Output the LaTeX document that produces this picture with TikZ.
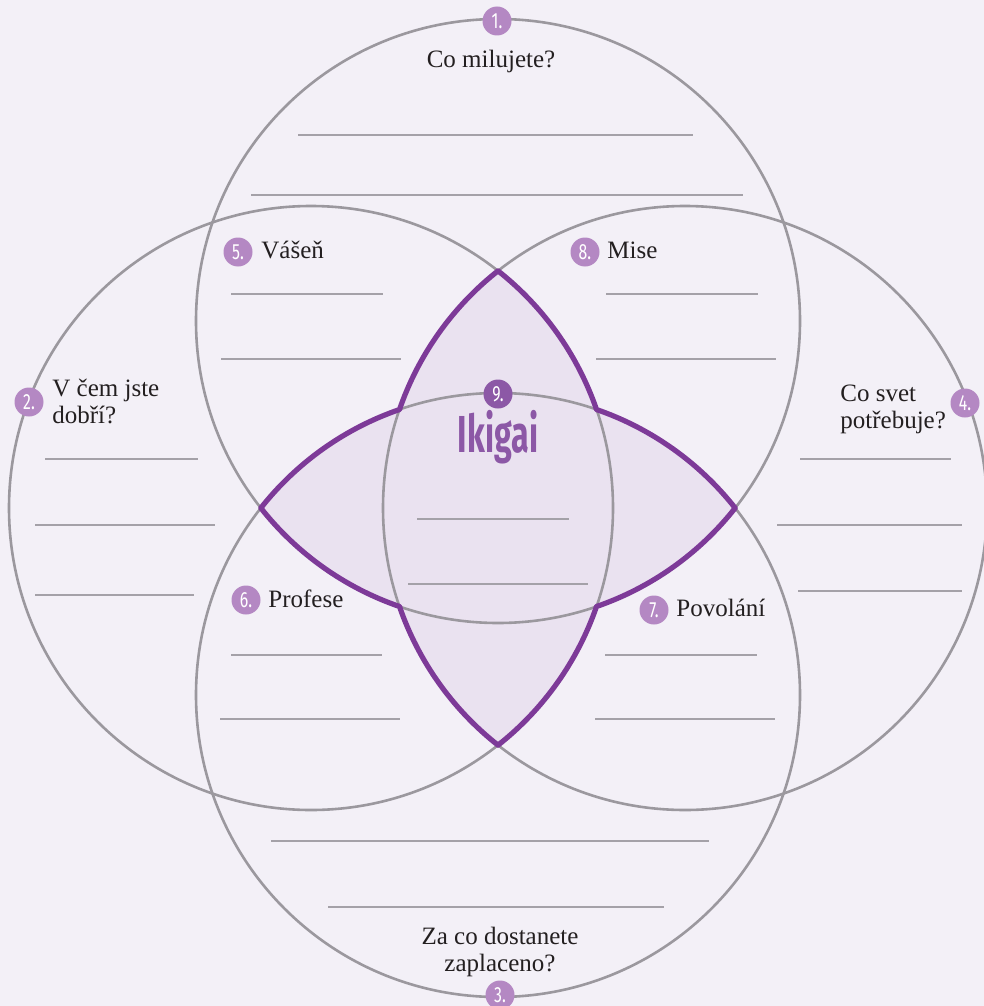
\documentclass[tikz,border=0pt]{standalone}
\usepackage{fontspec}
\setmainfont{Liberation Serif}
\newfontfamily\numfont[FakeStretch=0.72]{Fira Sans}
\newfontfamily\ikigaifont[FakeStretch=0.62]{Fira Sans}
\usepackage{xcolor}
\usetikzlibrary{positioning}
\definecolor{Backdrop}{HTML}{F3F0F7}
\definecolor{SoftPurple}{HTML}{EAE2F0}
\definecolor{DeepPurple}{HTML}{7D3A98}
\definecolor{BadgePurple}{HTML}{B488C3}
\definecolor{CorePurple}{HTML}{8C58A6}
\definecolor{RingGray}{HTML}{9B989E}
\definecolor{LineGray}{HTML}{A4A1A8}
\definecolor{InkGray}{HTML}{231F20}
\newcommand{\petals}{(498,270.86)
  arc[start angle=-51.74,end angle=-19.03,radius=302]
  arc[start angle=-70.97,end angle=-38.26,radius=302]
  arc[start angle=38.26,end angle=70.97,radius=302]
  arc[start angle=19.03,end angle=51.74,radius=302]
  arc[start angle=128.26,end angle=160.97,radius=302]
  arc[start angle=109.03,end angle=141.74,radius=302]
  arc[start angle=218.26,end angle=250.97,radius=302]
  arc[start angle=199.03,end angle=231.74,radius=302] -- cycle}
\tikzset{
  ring/.style={draw=RingGray,line width=1.3pt},
  petal/.style={draw=DeepPurple,line width=2.6pt,line join=round},
  blank/.style={draw=LineGray,line width=0.7pt},
  badge/.style={circle,fill=BadgePurple,text=white,minimum size=14.5pt,inner sep=0pt,
                font=\numfont\fontsize{11}{11}\selectfont},
  label/.style={text=InkGray,font=\fontsize{12.5}{13.5}\selectfont,inner sep=0pt},
  title/.style={text=CorePurple,font=\ikigaifont\bfseries\fontsize{26}{26}\selectfont,inner sep=0pt}
}

\begin{document}
\begin{tikzpicture}[x=0.5pt,y=-0.5pt]
  \useasboundingbox (0,0) rectangle (984,1006);
  \fill[Backdrop] (0,0) rectangle (984,1006);

  % the four circles
  \coordinate (love) at (498,321);
  \coordinate (good) at (311,508);
  \coordinate (world) at (685,508);
  \coordinate (paid) at (498,695);

  \fill[SoftPurple] \petals;
  \foreach \c in {love,good,world,paid}
    \draw[ring] (\c) circle[radius=302];
  \draw[petal] \petals;

  % writing lines
  \foreach \xa/\xb/\y in {298/693/135,251/743/195,231/383/294,221/401/359,
      606/758/294,596/776/359,45/198/459,35/215/525,35/194/595,
      800/951/459,777/962/525,798/962/591,417/569/519,408/588/584,
      231/382/655,220/400/719,605/757/655,595/775/719,271/709/841,328/664/907}
    \draw[blank] (\xa,\y) -- (\xb,\y);

  % questions (base = last line)
  \node[label,anchor=base] (q1) at (491,68) {Co milujete?};
  \node[label,anchor=base west,align=left] (q2) at (52,423) {V čem jste\\dobří?};
  \node[label,anchor=base,align=center] (q3) at (500,971) {Za co dostanete\\zaplaceno?};
  \node[label,anchor=base west,align=left] (q4) at (840,428) {Co svet\\potřebuje?};

  % overlaps
  \node[label,anchor=base west] (passion) at (261,258) {Vášeň};
  \node[label,anchor=base west] (mission) at (607,258) {Mise};
  \node[label,anchor=base west] (profession) at (268,607) {Profese};
  \node[label,anchor=base west] (vocation) at (676,616) {Povolání};
  \node[title] (ikigai) at (498,437) {Ikigai};

  % numbers
  \node[badge] (n1) at (497,21) {1.};
  \node[badge] (n2) at (29,402) {2.};
  \node[badge] (n3) at (500,995) {3.};
  \node[badge] (n4) at (965,403) {4.};
  \node[badge] (n5) at (238,252) {5.};
  \node[badge] (n6) at (246,600) {6.};
  \node[badge] (n7) at (654,610) {7.};
  \node[badge] (n8) at (585,252) {8.};
  \node[badge,fill=CorePurple] (n9) at (498,394) {9.};
\end{tikzpicture}
\end{document}
